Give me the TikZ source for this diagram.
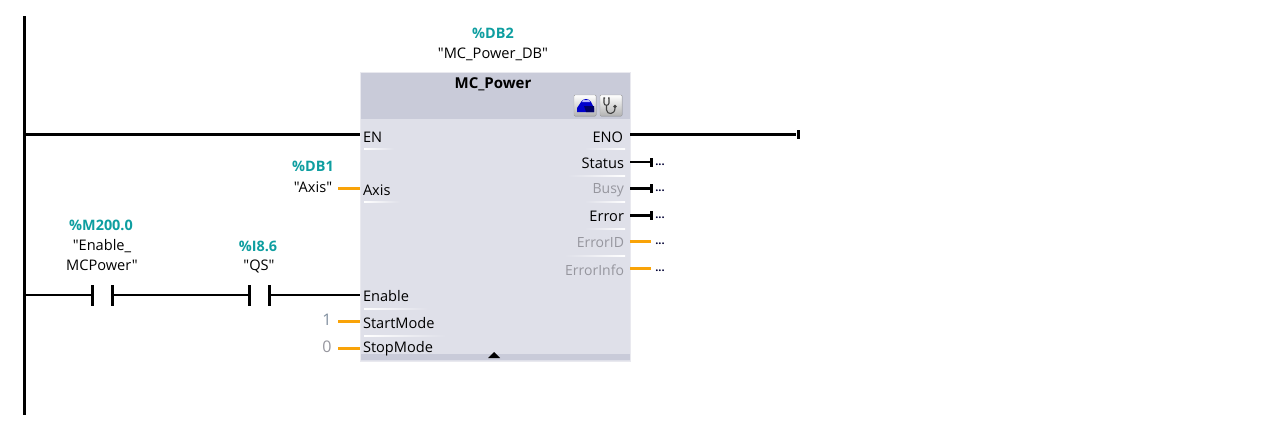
\documentclass[tikz,border=0pt]{standalone}
\usepackage{fontspec}
\setmainfont{Open Sans}[Ligatures=TeXOff]
\definecolor{headgray}{HTML}{C9CBD9}
\definecolor{bodygray}{HTML}{DFE0E9}
\definecolor{edgegray}{HTML}{E9E9EF}
\definecolor{addrteal}{HTML}{0E9EA0}
\definecolor{pinorange}{HTML}{F9A308}
\definecolor{offgray}{HTML}{96969E}
\definecolor{constgray}{HTML}{7F8E9E}
\tikzset{
    txt/.style = {
        inner sep = 0pt,
        outer sep = 0pt,
        font = \fontsize{14.6}{16}\selectfont,
    },
    addr/.style = {
        txt,
        text = addrteal,
        font = \fontsize{14.4}{16}\selectfont\bfseries,
    },
    pinin/.style = {txt, anchor = west},
    pinout/.style = {txt, anchor = east},
    pinoff/.style = {pinout, text = offgray, font = \fontsize{14}{16}\selectfont},
    constval/.style = {txt, font = \fontsize{16}{18}\selectfont},
    wire/.style = {line width = 2pt},
    railwire/.style = {line width = 3pt},
    datawire/.style = {line width = 3pt, pinorange},
    tick/.style = {inner sep = 0pt, minimum width = 3pt, minimum height = 9pt, fill = black},
    contact/.style = {tick, minimum height = 21pt},
    dots/.style = {txt, font = \fontsize{11}{12}\selectfont\bfseries, text = black!80!blue},
    sepleft/.style = {left color = white, right color = bodygray},
    sepright/.style = {right color = white, left color = bodygray},
    button/.style = {bottom color = black!30, top color = white, draw = black!35, rounded corners = 1pt},
}

\begin{document}
\begin{tikzpicture}[x=1pt, y=-1pt]
  \useasboundingbox (0,0) rectangle (1265,431);

  % Block body, title bar and bottom bar
  \fill[bodygray, draw=edgegray, line width=1pt] (360,72) rectangle (630,361);
  \fill[headgray] (360.5,72.5) rectangle (629.5,119);
  \fill[headgray] (360.5,354) rectangle (629.5,360);
  \fill[black] (488,358) -- (494,352) -- (500,358) -- cycle;

  % Separators below the pins
  \fill[sepleft] (364,148.5) rectangle (394,149.5);
  \fill[sepleft] (364,201.5) rectangle (400,202.5);
  \fill[sepleft] (364,308) rectangle (428,309);
  \fill[sepleft] (364,335) rectangle (446,336);
  \fill[sepright] (585,148.5) rectangle (625,149.5);
  \fill[sepright] (568,175) rectangle (625,176);
  \fill[sepright] (585,201.5) rectangle (625,202.5);
  \fill[sepright] (585,228) rectangle (625,229);
  \fill[sepright] (565,255) rectangle (625,256);

  % Title buttons
  \fill[button] (574,95) rectangle (596,116);
  \fill[button] (600,95) rectangle (622,116);
  \fill[blue!80!black] (577,112) -- (577,108) -- (581,102) .. controls (583,98) and (589,98) .. (591,102) -- (594,108) -- (594,112) -- cycle;
  \fill[white!70!blue] (582,102) -- (590,102) -- (589,100) -- (583,100) -- cycle;
  \fill[blue!40!black] (584,106) -- (594,106) -- (594,112) -- (586,112) -- cycle;
  \draw[black!75, line width=1.1pt] (605,98) -- (604,98) -- (604,103) .. controls (604,106) and (609,106) .. (609,103) -- (609,98) -- (608,98);
  \draw[black!75, line width=1.1pt] (606.5,105) -- (606.5,110) .. controls (607,115) and (615,115) .. (615,108);
  \fill[black!75] (615,106.5) circle (1.8);

  % Block texts
  \node[addr] (db2) at (493,33) {\%DB2};
  \node[txt] (dbname) at (493,54) {"MC\_Power\_DB"};
  \node[txt, font=\fontsize{15}{16}\selectfont\bfseries] (title) at (493,84) {MC\_Power};

  % Input pins
  \node[pinin] (en) at (363,137) {EN};
  \node[pinin] (axis) at (363,190) {Axis};
  \node[pinin] (enable) at (363,296) {Enable};
  \node[pinin] (startmode) at (363,323) {StartMode};
  \node[pinin] (stopmode) at (363,349) {StopMode};

  % Output pins
  \node[pinout] (eno) at (623,137) {ENO};
  \node[pinout] (status) at (624,163) {Status};
  \node[pinoff] (busy) at (624,190) {Busy};
  \node[pinout] (error) at (624,216) {Error};
  \node[pinoff] (errorid) at (624,243) {ErrorID};
  \node[pinoff] (errorinfo) at (624,270) {ErrorInfo};

  % Pin anchors on the block edge
  \coordinate (enL) at (360,134);
  \coordinate (axisL) at (360,188);
  \coordinate (enableL) at (360,295);
  \coordinate (startL) at (360,321);
  \coordinate (stopL) at (360,348);
  \coordinate (enoR) at (630,134);
  \coordinate (statusR) at (630,162);
  \coordinate (busyR) at (630,188);
  \coordinate (errorR) at (630,215);
  \coordinate (erroridR) at (630,241.5);
  \coordinate (errorinfoR) at (630,268);

  % Power rail
  \coordinate (railtop) at (24,16);
  \coordinate (railbot) at (24,415);
  \coordinate (rung1) at (24,134);
  \coordinate (rung2) at (24,295);
  \draw[railwire] (railtop) -- (railbot);

  % Top rung
  \node[tick] (enoend) at (798,134) {};
  \draw[railwire] (rung1) -- (enL);
  \draw[railwire] (enoR) -- (enoend);

  % Contacts
  \node[contact] (c1a) at (92.5,295) {};
  \node[contact] (c1b) at (112.5,295) {};
  \node[contact] (c2a) at (249.5,295) {};
  \node[contact] (c2b) at (269.5,295) {};
  \draw[wire] (rung2) -- (c1a);
  \draw[wire] (c1b) -- (c2a);
  \draw[wire] (c2b) -- (enableL);

  \node[addr] (m200) at (101,225) {\%M200.0};
  \node[txt] (mname1) at (102,246) {"Enable\_};
  \node[txt] (mname2) at (102,265) {MCPower"};
  \node[addr] (i86) at (258,246) {\%I8.6};
  \node[txt] (qsname) at (259,266) {"QS"};

  % Inputs with constants
  \node[addr] (db1) at (313,166) {\%DB1};
  \node[txt] (axisname) at (313,187) {"Axis"};
  \coordinate (axisS) at (338,188);
  \draw[datawire] (axisS) -- (axisL);
  \node[constval, text=constgray] (one) at (327,320) {1};
  \coordinate (startS) at (338,321);
  \draw[datawire] (startS) -- (startL);
  \node[constval, text=offgray] (zero) at (327,347) {0};
  \coordinate (stopS) at (338,348);
  \draw[datawire] (stopS) -- (stopL);

  % Outputs
  \node[tick] (statusend) at (651.5,162) {};
  \node[tick] (busyend) at (651.5,188) {};
  \node[tick] (errorend) at (651.5,215) {};
  \coordinate (erroridend) at (651,241.5);
  \coordinate (errorinfoend) at (651,268);
  \draw[wire] (statusR) -- (statusend);
  \draw[railwire] (busyR) -- (busyend);
  \draw[railwire] (errorR) -- (errorend);
  \draw[datawire] (erroridR) -- (erroridend);
  \draw[datawire] (errorinfoR) -- (errorinfoend);

  \node[dots] (d1) at (660,165) {...};
  \node[dots] (d2) at (660,191) {...};
  \node[dots] (d3) at (660,218) {...};
  \node[dots] (d4) at (660,244) {...};
  \node[dots] (d5) at (660,271) {...};

\end{tikzpicture}
\end{document}
